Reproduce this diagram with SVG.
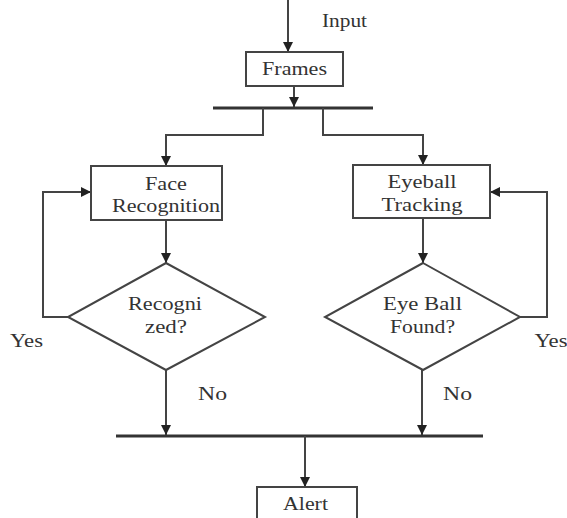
<svg xmlns="http://www.w3.org/2000/svg" width="567" height="518" viewBox="0 0 567 518">
<defs>
<style>
.box{fill:#fff;stroke:#444;stroke-width:2}
.ln{fill:none;stroke:#444;stroke-width:2}
.bar{fill:none;stroke:#333;stroke-width:3}
text{font-family:"Liberation Serif","Times New Roman",serif;font-size:18px;fill:#333;text-anchor:middle}
</style>
<marker id="ah" markerUnits="userSpaceOnUse" markerWidth="10" markerHeight="10" viewBox="0 0 10 10" refX="10" refY="5" orient="auto">
<path d="M0,0 L10,5 L0,10 z" fill="#222"/>
</marker>
</defs>
<rect width="567" height="518" fill="#fff"/>
<g id="connectors">
<path class="ln" d="M288,0 V52" marker-end="url(#ah)"/>
<path class="ln" d="M294,86 V107" marker-end="url(#ah)"/>
<path class="bar" d="M213,108 H373"/>
<path class="ln" d="M263,108 V135 H166 V166" marker-end="url(#ah)"/>
<path class="ln" d="M323,108 V135 H423 V165" marker-end="url(#ah)"/>
<path class="ln" d="M166,220 V263" marker-end="url(#ah)"/>
<path class="ln" d="M423,218 V263" marker-end="url(#ah)"/>
<path class="ln" d="M68,317 H43 V192 H91" marker-end="url(#ah)"/>
<path class="ln" d="M520,317 H547 V192 H490" marker-end="url(#ah)"/>
<path class="ln" d="M166,370 V435" marker-end="url(#ah)"/>
<path class="ln" d="M422,370 V435" marker-end="url(#ah)"/>
<path class="bar" d="M116,436 H483"/>
<path class="ln" d="M305,436 V487" marker-end="url(#ah)"/>
<text x="344.5" y="27" textLength="45" lengthAdjust="spacingAndGlyphs">Input</text>
<text x="26.5" y="347" textLength="33" lengthAdjust="spacingAndGlyphs">Yes</text>
<text x="551" y="347" textLength="33" lengthAdjust="spacingAndGlyphs">Yes</text>
<text x="212.5" y="400" textLength="29" lengthAdjust="spacingAndGlyphs">No</text>
<text x="457.5" y="400" textLength="29" lengthAdjust="spacingAndGlyphs">No</text>
</g>
<g id="frames">
<rect class="box" x="246" y="52" width="97" height="34"/>
<text x="294.5" y="75" textLength="65" lengthAdjust="spacingAndGlyphs">Frames</text>
</g>
<g id="face">
<rect class="box" x="91" y="166" width="131" height="54"/>
<text x="166" y="190" textLength="42" lengthAdjust="spacingAndGlyphs">Face</text>
<text x="166" y="212" textLength="108" lengthAdjust="spacingAndGlyphs">Recognition</text>
</g>
<g id="eyeball">
<rect class="box" x="353" y="165" width="137" height="53"/>
<text x="422" y="188" textLength="69" lengthAdjust="spacingAndGlyphs">Eyeball</text>
<text x="422" y="211" textLength="81" lengthAdjust="spacingAndGlyphs">Tracking</text>
</g>
<g id="recognized">
<path class="box" d="M166,263 L265,317 L166,370 L68,317 Z"/>
<text x="165" y="310" textLength="74" lengthAdjust="spacingAndGlyphs">Recogni</text>
<text x="166" y="333" textLength="42" lengthAdjust="spacingAndGlyphs">zed?</text>
</g>
<g id="found">
<path class="box" d="M423,263 L520,317 L423,370 L325,317 Z"/>
<text x="422.5" y="310" textLength="79" lengthAdjust="spacingAndGlyphs">Eye Ball</text>
<text x="422.5" y="333" textLength="65" lengthAdjust="spacingAndGlyphs">Found?</text>
</g>
<g id="alert">
<rect class="box" x="257" y="487" width="100" height="40"/>
<text x="305.5" y="510" textLength="45" lengthAdjust="spacingAndGlyphs">Alert</text>
</g>
</svg>
